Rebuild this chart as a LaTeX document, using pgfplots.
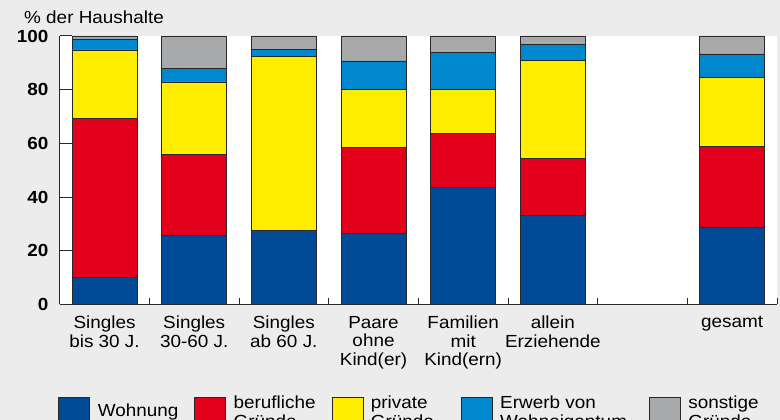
\documentclass[border=0pt]{standalone}
\usepackage{pgfplots}
\pgfplotsset{compat=1.18}
\usepackage{fontspec}
\setmainfont{Liberation Sans}[FakeStretch=1.08]
\definecolor{bg}{RGB}{236,236,236}
\definecolor{cW}{RGB}{0,74,152}
\definecolor{cB}{RGB}{226,0,26}
\definecolor{cP}{RGB}{255,237,0}
\definecolor{cE}{RGB}{0,136,207}
\definecolor{cS}{RGB}{168,169,171}
\definecolor{ln}{RGB}{40,40,40}
\newcommand{\fs}{\fontsize{17.5}{18.4}\selectfont}
\begin{document}
\begin{tikzpicture}[x=1pt,y=1pt]
\useasboundingbox (0,0) rectangle (780,420);
\clip (0,0) rectangle (780,420);
\fill[bg] (0,0) rectangle (780,420);
\node[anchor=base west, inner sep=0pt, font=\fs] at (24,396.7) {\% der Haushalte};
\begin{axis}[
  at={(59.7pt,115.5pt)}, anchor=south west,
  scale only axis, width=717.3pt, height=268.5pt,
  ybar stacked, bar width=65pt,
  xmin=-0.5, xmax=7.5, ymin=0, ymax=100,
  axis x line*=bottom, axis y line*=left,
  axis line style={-, draw=ln, line width=1pt},
  axis background/.style={fill=white},
  xtick={0,1,2,3,4,5,7},
  xticklabels={{Singles\\bis 30 J.},{Singles\\30-60 J.},{Singles\\ab 60 J.},{Paare\\ohne\\Kind(er)},{Familien\\mit\\Kind(ern)},{allein\\Erziehende},{gesamt}},
  minor xtick={0.5,1.5,2.5,3.5,4.5,5.5,6.5,7.5},
  ytick={0,20,40,60,80,100},
  tick align=inside,
  tick style={draw=ln, line width=1pt},
  major tick length=12pt,
  minor tick length=6pt,
  major x tick style={draw=none},
  /pgf/number format/assume math mode=true,
  xticklabel style={font=\fs, align=center, anchor=north, inner sep=0pt, yshift=-11.5pt},
  yticklabel style={font=\fs\bfseries, anchor=east, inner sep=0pt, xshift=-11pt},
  legend columns=5,
  legend cell align=left,
  legend style={at={(axis description cs:-0.0017,-0.4022)}, anchor=west, draw=none, fill=none,
    inner sep=0pt, outer sep=0pt, nodes={inner sep=0pt, font=\fs},
    /tikz/every odd column/.append style={column sep=7.5pt},
    /tikz/every even column/.append style={column sep=16pt}},
  legend image code/.code={\draw[#1, line width=0.8pt, draw=ln] (0pt,-15.5pt) rectangle (31pt,15.5pt);},
]
\addplot[fill=cW, draw=ln, line width=0.8pt] coordinates {(0,10.2) (1,25.8) (2,27.5) (3,26.3) (4,43.7) (5,33.2) (7,28.6)};
\addplot[fill=cB, draw=ln, line width=0.8pt] coordinates {(0,59.2) (1,30.2) (2,0) (3,32.3) (4,20.0) (5,21.2) (7,30.4)};
\addplot[fill=cP, draw=ln, line width=0.8pt] coordinates {(0,25.4) (1,26.9) (2,64.8) (3,21.5) (4,16.3) (5,36.4) (7,25.5)};
\addplot[fill=cE, draw=ln, line width=0.8pt] coordinates {(0,4.1) (1,5.1) (2,2.7) (3,10.6) (4,13.8) (5,6.2) (7,8.8)};
\addplot[fill=cS, draw=ln, line width=0.8pt] coordinates {(0,1.1) (1,12.0) (2,5.0) (3,9.3) (4,6.2) (5,3.0) (7,6.7)};
\addlegendentry[yshift=2pt]{Wohnung}
\addlegendentry[yshift=5pt]{\begin{tabular}{@{}l@{}}berufliche\\Gründe\end{tabular}}
\addlegendentry[yshift=5pt]{\begin{tabular}{@{}l@{\hspace{11pt}}}private\\Gründe\end{tabular}}
\addlegendentry[yshift=5pt]{\begin{tabular}{@{}l@{\hspace{6pt}}}Erwerb von\\Wohneigentum\end{tabular}}
\addlegendentry[yshift=5pt]{\begin{tabular}{@{}l@{}}sonstige\\Gründe\end{tabular}}
\end{axis}
\end{tikzpicture}
\end{document}
